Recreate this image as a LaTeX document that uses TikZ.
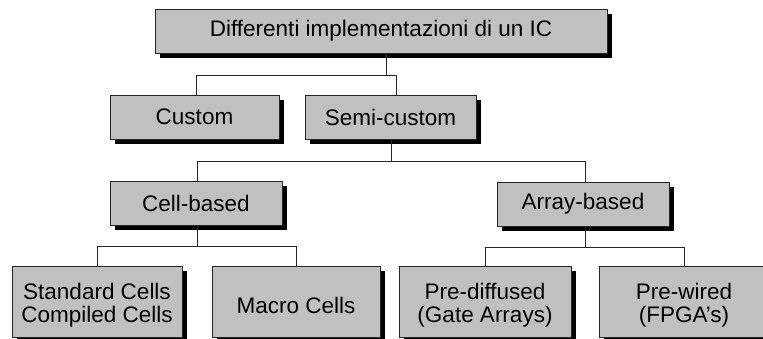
\documentclass[tikz,border=0pt]{standalone}
\usepackage{fontspec}
\setmainfont{Liberation Sans}
\usetikzlibrary{shadows}
\definecolor{boxgray}{RGB}{192,192,192}
\tikzset{
  boxtext/.style={align=center, inner sep=0pt, font=\fontsize{22.5}{23.5}\selectfont},
  box/.style={rectangle, draw=black!85, line width=0.9pt, fill=boxgray,
    inner sep=0pt, minimum height=44pt, boxtext,
    drop shadow={shadow xshift=4.5pt, shadow yshift=-4.5pt, fill=black, opacity=1}},
  tallbox/.style={box, minimum height=71pt},
  link/.style={draw=black!85, line width=0.9pt},
}
\begin{document}
\begin{tikzpicture}[x=1pt, y=-1pt]
  \useasboundingbox (0,0) rectangle (763,338);
  \clip (0,0) rectangle (763,338);
  % hierarchy of IC implementation styles
  \node[box, minimum width=452pt] (top) at (381,31) {Differenti implementazioni di un IC};
  \node[box, minimum width=169pt] (custom) at (194.5,117) {Custom};
  \node[box, minimum width=171pt] (semi) at (390.5,117) {Semi-custom};
  \node[box, minimum width=172pt] (cell) at (196,203) {Cell-based};
  \node[box, minimum width=172pt] (array) at (583,204) {Array-based};
  % bottom row: the frames run past the lower edge, their labels sit a bit low
  \node[tallbox, minimum width=170pt] (std) at (97,301.5) {};
  \node[tallbox, minimum width=168pt] (macro) at (296,301.5) {};
  \node[tallbox, minimum width=172pt] (prediff) at (485,301.5) {};
  \node[tallbox, minimum width=170pt] (prewired) at (684,301.5) {};
  \node[boxtext] (stdtext) at ([yshift=-3.5pt]std.center) {Standard Cells\\Compiled Cells};
  \node[boxtext] (macrotext) at ([yshift=-3.5pt]macro.center) {Macro Cells};
  \node[boxtext] (prediffext) at ([yshift=-3.5pt]prediff.center) {Pre-diffused\\(Gate Arrays)};
  \node[boxtext] (prewiredtext) at ([yshift=-3.5pt]prewired.center) {Pre-wired\\(FPGA{\char"27}s)};
  % connectors
  \draw[link] ([xshift=5pt]top.south) -- ++(0,23);
  \draw[link] ([xshift=1.5pt]custom.north) -- ++(0,-19) -| ([xshift=5.5pt]semi.north);
  \draw[link] ([xshift=0.5pt]semi.south) -- ++(0,23);
  \draw[link] ([xshift=1pt]cell.north) -- ++(0,-19) -| ([xshift=2pt]array.north);
  \draw[link] ([xshift=1pt]cell.south) -- ++(0,22);
  \draw[link] (std.north) -- ++(0,-19) -| (macro.north);
  \draw[link] ([xshift=2pt]array.south) -- ++(0,22);
  \draw[link] (prediff.north) -- ++(0,-18) -| (prewired.north);
\end{tikzpicture}
\end{document}
